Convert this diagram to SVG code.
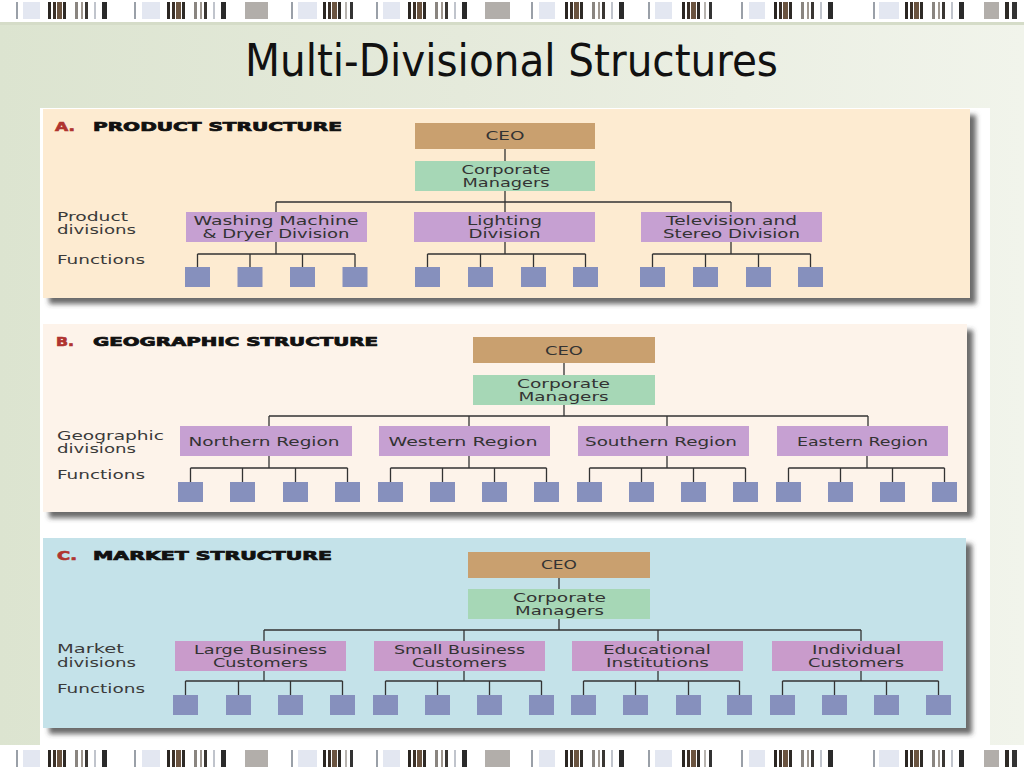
<svg xmlns="http://www.w3.org/2000/svg" xmlns:xlink="http://www.w3.org/1999/xlink" width="1024" height="768" viewBox="0 0 1024 768">
<defs>
<linearGradient id="bg" x1="0" y1="0" x2="1" y2="0">
<stop offset="0" stop-color="#dce4d0"/>
<stop offset="0.45" stop-color="#e5eadb"/>
<stop offset="1" stop-color="#f1f4eb"/>
</linearGradient>
<filter id="sh" x="-3%" y="-5%" width="108%" height="120%">
<feDropShadow dx="6" dy="6" stdDeviation="2.5" flood-color="#3a3a3a" flood-opacity="0.75"/>
</filter>
<g id="cl">
<rect x="0" y="0" width="3" height="17" fill="#2b2622"/>
<rect x="5" y="0" width="3" height="17" fill="#3b3028"/>
<rect x="9" y="0" width="5" height="17" fill="#6b5440"/>
<rect x="15" y="0" width="3" height="17" fill="#2e2a26"/>
<rect x="27" y="0" width="3" height="17" fill="#8a8580"/>
<rect x="33" y="0" width="2" height="17" fill="#a09890"/>
<rect x="37" y="0" width="3" height="17" fill="#3a3632"/>
<rect x="46" y="0" width="2" height="17" fill="#c0c4cc"/>
<rect x="54" y="0" width="5" height="17" fill="#2a2a2a"/>
</g>
<g id="cs">
<rect x="0" y="0" width="3" height="17" fill="#2b2622"/>
<rect x="5" y="0" width="3" height="17" fill="#3b3028"/>
<rect x="9" y="0" width="5" height="17" fill="#6b5440"/>
<rect x="15" y="0" width="3" height="17" fill="#2e2a26"/>
<rect x="22" y="0" width="2" height="17" fill="#b8b4b0"/>
<rect x="27" y="0" width="3" height="17" fill="#333"/>
</g>
<g id="strip">
<rect x="0" y="0" width="1024" height="20" fill="#ffffff"/>
<g fill="#e3e7f1">
<rect x="23" y="0" width="17" height="17"/><rect x="142" y="0" width="18" height="17"/><rect x="298" y="0" width="19" height="17"/><rect x="383" y="0" width="17" height="17"/><rect x="539" y="0" width="16" height="17"/><rect x="655" y="0" width="17" height="17"/><rect x="749" y="0" width="16" height="17"/><rect x="879" y="0" width="20" height="17"/>
</g>
<g fill="#9aa0a8">
<rect x="16" y="0" width="2" height="17"/><rect x="134" y="0" width="2" height="17"/><rect x="291" y="0" width="2" height="17"/><rect x="376" y="0" width="2" height="17"/><rect x="531" y="0" width="2" height="17"/><rect x="648" y="0" width="2" height="17"/><rect x="741" y="0" width="2" height="17"/><rect x="873" y="0" width="2" height="17"/>
</g>
<g fill="#b2aeaa">
<rect x="245" y="0" width="23" height="17"/><rect x="485" y="0" width="25" height="17"/><rect x="984" y="0" width="15" height="17"/>
</g>
<rect x="1005" y="0" width="4" height="17" fill="#2e2a26"/>
<rect x="1012" y="0" width="5" height="17" fill="#333"/>
<use xlink:href="#cl" x="48"/>
<use xlink:href="#cl" x="167"/>
<use xlink:href="#cs" x="323"/>
<use xlink:href="#cl" x="408"/>
<use xlink:href="#cl" x="565"/>
<use xlink:href="#cs" x="682"/>
<use xlink:href="#cl" x="774"/>
<use xlink:href="#cl" x="905"/>
</g>
<style>
.ceo{fill:#c9a06f}
.cm{fill:#a6d7b6}
.dv{fill:#c6a0d2}
.dvc{fill:#c99bcb}
.fn{fill:#8690bd}
.t{font-family:"DejaVu Sans","Liberation Sans",sans-serif;font-size:13px;fill:#333;text-anchor:middle}
.lab{font-family:"DejaVu Sans","Liberation Sans",sans-serif;font-size:13px;fill:#3a3a3a}
.hd{font-family:"DejaVu Sans","Liberation Sans",sans-serif;font-size:11.5px;font-weight:bold;fill:#111;stroke:#111;stroke-width:0.7}
.hl{font-family:"DejaVu Sans","Liberation Sans",sans-serif;font-size:11.5px;font-weight:bold;fill:#b0342f;stroke:#b0342f;stroke-width:0.6}
.ln{stroke:#333;stroke-width:1.3;fill:none}
.pa{fill:#fdebd1}
.pb{fill:#fdf3ea}
.pc{fill:#c4e2e9}
</style>
</defs>

<!-- slide background -->
<rect x="0" y="0" width="1024" height="768" fill="url(#bg)"/>
<rect x="0" y="22" width="1024" height="3" fill="#d5dcc8"/>
<use xlink:href="#strip" y="2"/>
<rect x="0" y="0" width="1024" height="2" fill="#ffffff"/>
<rect x="0" y="19" width="1024" height="3" fill="#ffffff"/>
<rect x="0" y="745" width="1024" height="23" fill="#ffffff"/>
<use xlink:href="#strip" y="750"/>

<text x="245" y="76" font-family="'DejaVu Sans Condensed','DejaVu Sans',sans-serif" font-stretch="condensed" font-size="45" fill="#111" textLength="533" lengthAdjust="spacingAndGlyphs">Multi-Divisional Structures</text>

<!-- image white backing -->
<rect x="40" y="108" width="950" height="637" fill="#ffffff"/>

<!-- panels -->
<rect id="panelA" class="pa" x="43" y="109" width="927" height="189" filter="url(#sh)"/>
<rect id="panelB" class="pb" x="43" y="324" width="924" height="188" filter="url(#sh)"/>
<rect id="panelC" class="pc" x="43" y="538" width="923" height="190" filter="url(#sh)"/>

<!-- panel labels -->
<g id="labelsA">
<text class="hl" x="55" y="131" textLength="20" lengthAdjust="spacingAndGlyphs">A.</text>
<text class="hd" x="93" y="131" textLength="249" lengthAdjust="spacingAndGlyphs">PRODUCT STRUCTURE</text>
<text class="lab" x="57" y="221" textLength="71" lengthAdjust="spacingAndGlyphs">Product</text>
<text class="lab" x="57" y="234" textLength="79" lengthAdjust="spacingAndGlyphs">divisions</text>
<text class="lab" x="57" y="264" textLength="88" lengthAdjust="spacingAndGlyphs">Functions</text>
</g>
<g id="labelsB">
<text class="hl" x="56" y="346" textLength="18" lengthAdjust="spacingAndGlyphs">B.</text>
<text class="hd" x="93" y="346" textLength="285" lengthAdjust="spacingAndGlyphs">GEOGRAPHIC STRUCTURE</text>
<text class="lab" x="57" y="440" textLength="107" lengthAdjust="spacingAndGlyphs">Geographic</text>
<text class="lab" x="57" y="453" textLength="79" lengthAdjust="spacingAndGlyphs">divisions</text>
<text class="lab" x="57" y="479" textLength="88" lengthAdjust="spacingAndGlyphs">Functions</text>
</g>
<g id="labelsC">
<text class="hl" x="57" y="560" textLength="20" lengthAdjust="spacingAndGlyphs">C.</text>
<text class="hd" x="93" y="560" textLength="239" lengthAdjust="spacingAndGlyphs">MARKET STRUCTURE</text>
<text class="lab" x="57" y="653" textLength="67" lengthAdjust="spacingAndGlyphs">Market</text>
<text class="lab" x="57" y="667" textLength="79" lengthAdjust="spacingAndGlyphs">divisions</text>
<text class="lab" x="57" y="693" textLength="88" lengthAdjust="spacingAndGlyphs">Functions</text>
</g>

<!-- connectors -->
<g id="connectors" class="ln">
<path d="M505 149V161M505 191V202M276 202H731M276 202V212M505 202V212M731 202V212"/>
<path d="M276 242V254M197.5 254H355M197.5 254V267M250 254V267M302.5 254V267M355 254V267"/>
<path d="M505 242V254M427.5 254H585.5M427.5 254V267M480.5 254V267M533.5 254V267M585.5 254V267"/>
<path d="M731 242V254M652.5 254H810.5M652.5 254V267M705.5 254V267M758.5 254V267M810.5 254V267"/>
<path d="M564 363V375M564 405V416M269 416H868M269 416V426M469 416V426M667 416V426M868 416V426"/>
<path d="M269 456V468M190.5 468H347.5M190.5 468V482M242.5 468V482M295.5 468V482M347.5 468V482"/>
<path d="M469 456V468M390.5 468H546.5M390.5 468V482M442.5 468V482M494.5 468V482M546.5 468V482"/>
<path d="M667 456V468M589.5 468H745.5M589.5 468V482M641.5 468V482M693.5 468V482M745.5 468V482"/>
<path d="M867 456V468M788.5 468H944.5M788.5 468V482M840.5 468V482M892.5 468V482M944.5 468V482"/>
<path d="M559 578V589M559 619V630M264 630H861M264 630V641M464 630V641M658 630V641M861 630V641"/>
<path d="M264 671V681M185.5 681H342.5M185.5 681V695M238.5 681V695M290.5 681V695M342.5 681V695"/>
<path d="M464 671V681M385.5 681H541.5M385.5 681V695M437.5 681V695M489.5 681V695M541.5 681V695"/>
<path d="M658 671V681M583.5 681H739.5M583.5 681V695M635.5 681V695M688.5 681V695M739.5 681V695"/>
<path d="M861 671V681M782.5 681H938.5M782.5 681V695M834.5 681V695M886.5 681V695M938.5 681V695"/>
</g>

<!-- Panel A nodes -->
<g id="A-ceo"><rect class="ceo" x="415" y="123" width="180" height="26"/><text class="t" x="505" y="140" textLength="39" lengthAdjust="spacingAndGlyphs">CEO</text></g>
<g id="A-cm"><rect class="cm" x="415" y="161" width="180" height="30"/><text class="t" x="506" y="174" textLength="89" lengthAdjust="spacingAndGlyphs">Corporate</text><text class="t" x="506" y="187" textLength="87" lengthAdjust="spacingAndGlyphs">Managers</text></g>
<g id="A-washing"><rect class="dv" x="186" y="212" width="181" height="30"/><text class="t" x="276" y="225" textLength="165" lengthAdjust="spacingAndGlyphs">Washing Machine</text><text class="t" x="276" y="238" textLength="147" lengthAdjust="spacingAndGlyphs">&amp; Dryer Division</text></g>
<g id="A-lighting"><rect class="dv" x="414" y="212" width="181" height="30"/><text class="t" x="504.5" y="225" textLength="75" lengthAdjust="spacingAndGlyphs">Lighting</text><text class="t" x="504.5" y="238" textLength="72" lengthAdjust="spacingAndGlyphs">Division</text></g>
<g id="A-tv"><rect class="dv" x="641" y="212" width="181" height="30"/><text class="t" x="731.5" y="225" textLength="131" lengthAdjust="spacingAndGlyphs">Television and</text><text class="t" x="731.5" y="238" textLength="137" lengthAdjust="spacingAndGlyphs">Stereo Division</text></g>
<g id="A-functions">
<rect class="fn" x="185" y="267" width="25" height="20"/><rect class="fn" x="237.5" y="267" width="25" height="20"/><rect class="fn" x="290" y="267" width="25" height="20"/><rect class="fn" x="342.5" y="267" width="25" height="20"/>
<rect class="fn" x="415" y="267" width="25" height="20"/><rect class="fn" x="468" y="267" width="25" height="20"/><rect class="fn" x="521" y="267" width="25" height="20"/><rect class="fn" x="573" y="267" width="25" height="20"/>
<rect class="fn" x="640" y="267" width="25" height="20"/><rect class="fn" x="693" y="267" width="25" height="20"/><rect class="fn" x="746" y="267" width="25" height="20"/><rect class="fn" x="798" y="267" width="25" height="20"/>
</g>

<!-- Panel B nodes -->
<g id="B-ceo"><rect class="ceo" x="473" y="337" width="182" height="26"/><text class="t" x="564" y="355" textLength="38" lengthAdjust="spacingAndGlyphs">CEO</text></g>
<g id="B-cm"><rect class="cm" x="473" y="375" width="182" height="30"/><text class="t" x="563.5" y="388" textLength="93" lengthAdjust="spacingAndGlyphs">Corporate</text><text class="t" x="563.5" y="401" textLength="90" lengthAdjust="spacingAndGlyphs">Managers</text></g>
<g id="B-north"><rect class="dv" x="180" y="426" width="172" height="30"/><text class="t" x="264" y="446" textLength="151" lengthAdjust="spacingAndGlyphs">Northern Region</text></g>
<g id="B-west"><rect class="dv" x="379" y="426" width="171" height="30"/><text class="t" x="463" y="446" textLength="149" lengthAdjust="spacingAndGlyphs">Western Region</text></g>
<g id="B-south"><rect class="dv" x="578" y="426" width="171" height="30"/><text class="t" x="661" y="446" textLength="152" lengthAdjust="spacingAndGlyphs">Southern Region</text></g>
<g id="B-east"><rect class="dv" x="777" y="426" width="171" height="30"/><text class="t" x="862.5" y="446" textLength="131" lengthAdjust="spacingAndGlyphs">Eastern Region</text></g>
<g id="B-functions">
<rect class="fn" x="178" y="482" width="25" height="20"/><rect class="fn" x="230" y="482" width="25" height="20"/><rect class="fn" x="283" y="482" width="25" height="20"/><rect class="fn" x="335" y="482" width="25" height="20"/>
<rect class="fn" x="378" y="482" width="25" height="20"/><rect class="fn" x="430" y="482" width="25" height="20"/><rect class="fn" x="482" y="482" width="25" height="20"/><rect class="fn" x="534" y="482" width="25" height="20"/>
<rect class="fn" x="577" y="482" width="25" height="20"/><rect class="fn" x="629" y="482" width="25" height="20"/><rect class="fn" x="681" y="482" width="25" height="20"/><rect class="fn" x="733" y="482" width="25" height="20"/>
<rect class="fn" x="776" y="482" width="25" height="20"/><rect class="fn" x="828" y="482" width="25" height="20"/><rect class="fn" x="880" y="482" width="25" height="20"/><rect class="fn" x="932" y="482" width="25" height="20"/>
</g>

<!-- Panel C nodes -->
<g id="C-ceo"><rect class="ceo" x="468" y="552" width="182" height="26"/><text class="t" x="559" y="569" textLength="36" lengthAdjust="spacingAndGlyphs">CEO</text></g>
<g id="C-cm"><rect class="cm" x="468" y="589" width="182" height="30"/><text class="t" x="559.5" y="602" textLength="93" lengthAdjust="spacingAndGlyphs">Corporate</text><text class="t" x="559.5" y="615" textLength="89" lengthAdjust="spacingAndGlyphs">Managers</text></g>
<g id="C-large"><rect class="dvc" x="175" y="641" width="171" height="30"/><text class="t" x="260.5" y="654" textLength="133" lengthAdjust="spacingAndGlyphs">Large Business</text><text class="t" x="260.5" y="667" textLength="95" lengthAdjust="spacingAndGlyphs">Customers</text></g>
<g id="C-small"><rect class="dvc" x="374" y="641" width="171" height="30"/><text class="t" x="459.5" y="654" textLength="131" lengthAdjust="spacingAndGlyphs">Small Business</text><text class="t" x="459.5" y="667" textLength="95" lengthAdjust="spacingAndGlyphs">Customers</text></g>
<g id="C-edu"><rect class="dvc" x="572" y="641" width="171" height="30"/><text class="t" x="657" y="654" textLength="108" lengthAdjust="spacingAndGlyphs">Educational</text><text class="t" x="657.5" y="667" textLength="103" lengthAdjust="spacingAndGlyphs">Institutions</text></g>
<g id="C-indiv"><rect class="dvc" x="772" y="641" width="171" height="30"/><text class="t" x="856.5" y="654" textLength="89" lengthAdjust="spacingAndGlyphs">Individual</text><text class="t" x="856" y="667" textLength="96" lengthAdjust="spacingAndGlyphs">Customers</text></g>
<g id="C-functions">
<rect class="fn" x="173" y="695" width="25" height="20"/><rect class="fn" x="226" y="695" width="25" height="20"/><rect class="fn" x="278" y="695" width="25" height="20"/><rect class="fn" x="330" y="695" width="25" height="20"/>
<rect class="fn" x="373" y="695" width="25" height="20"/><rect class="fn" x="425" y="695" width="25" height="20"/><rect class="fn" x="477" y="695" width="25" height="20"/><rect class="fn" x="529" y="695" width="25" height="20"/>
<rect class="fn" x="571" y="695" width="25" height="20"/><rect class="fn" x="623" y="695" width="25" height="20"/><rect class="fn" x="676" y="695" width="25" height="20"/><rect class="fn" x="727" y="695" width="25" height="20"/>
<rect class="fn" x="770" y="695" width="25" height="20"/><rect class="fn" x="822" y="695" width="25" height="20"/><rect class="fn" x="874" y="695" width="25" height="20"/><rect class="fn" x="926" y="695" width="25" height="20"/>
</g>
</svg>
